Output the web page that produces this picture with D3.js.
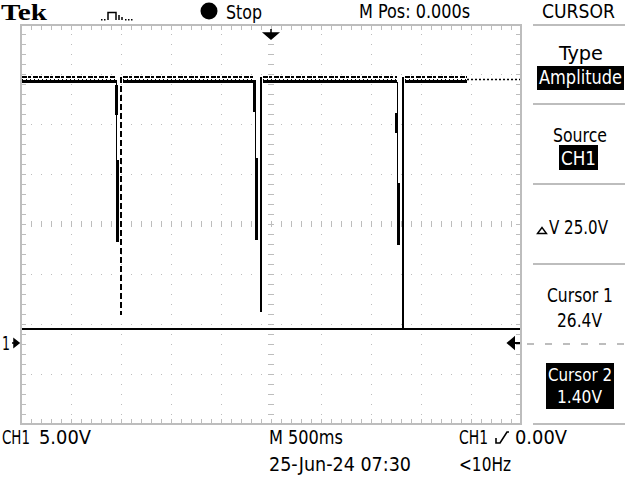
<!DOCTYPE html>
<html><head><meta charset="utf-8">
<script src="https://cdn.jsdelivr.net/npm/d3@7"></script>
<style>body{margin:0;background:#fff}svg{display:block}</style>
</head><body><svg id="c" width="640" height="480"></svg>
<script>
// ---------- data ----------
const timeDomain = [-2.5, 2.5];          // seconds (M 500ms/div, M Pos 0.000s)
const voltDomain = [-8.1, 31.9];         // volts (CH1 5.00V/div)
const traceStartT = -2.5, traceEndT = 1.96;
const traceHighTopV = 26.6, traceHighBotV = 26.15;
const pulseLeftT = [-1.545, -0.16, 1.26];
const pulseEdgeT = [-1.505, -0.10, 1.32];
const pulseMinV = [2.8, 3.1, 1.4];
const pulseDense = [[[25.8, 22.8], [18.3, 10.1]], [[26.3, 23.1], [18.5, 10.3]], [[23.0, 21.0], [16.0, 9.8]]];
const cursorV = [26.4, 1.40];
const triggerLevelV = 0.0;
const menuTitle = "CURSOR";
const menuItems = [["Type", "Amplitude"], ["Source", "CH1"], ["ΔV 25.0V"], ["Cursor 1", "26.4V"], ["Cursor 2", "1.40V"]];
const bottomLabels = ["CH1", "5.00V", "M 500ms", "CH1", "0.00V", "25-Jun-24 07:30", "<10Hz"];
const topLabels = ["Tek", "Stop", "M Pos: 0.000s"];

// ---------- setup ----------
const svg = d3.select("#c");
const x = d3.scaleLinear().domain(timeDomain).range([21, 521]);
const y = d3.scaleLinear().domain(voltDomain).range([424, 24]);
const GRID = "#bdbdbd";
const FONT = "'Liberation Sans Narrow','DejaVu Sans Condensed','Roboto Condensed',sans-serif";

svg.append("rect").attr("width", 640).attr("height", 480).attr("fill", "#fff");

// ---------- graticule ----------
const g = svg.append("g").attr("shape-rendering", "crispEdges");
const xDivs = d3.range(1, 10).map(k => timeDomain[0] + 0.5 * k);
const yDivs = d3.range(1, 8).map(k => voltDomain[0] + 5 * k);
const xMinor = d3.range(1, 50).map(k => timeDomain[0] + 0.1 * k);
const yMinor = d3.range(1, 40).map(k => voltDomain[0] + 1 * k);

g.selectAll("line.vd").data(xDivs).join("line")
  .attr("x1", d => x(d)).attr("x2", d => x(d)).attr("y1", 26).attr("y2", 423)
  .attr("stroke", GRID).attr("stroke-width", 1).attr("stroke-dasharray", "1,9").attr("stroke-dashoffset", -8);
g.selectAll("line.hd").data(yDivs).join("line")
  .attr("y1", d => y(d)).attr("y2", d => y(d)).attr("x1", 22).attr("x2", 520)
  .attr("stroke", GRID).attr("stroke-width", 1).attr("stroke-dasharray", "1,9").attr("stroke-dashoffset", -9);

const xc = x(0), yc = y(voltDomain[0] + 20);
g.selectAll("line.ct1").data(yMinor).join("line")
  .attr("x1", xc - 3).attr("x2", xc + 3).attr("y1", d => y(d)).attr("y2", d => y(d))
  .attr("stroke", GRID).attr("stroke-width", 1);
g.selectAll("line.ct2").data(xMinor).join("line")
  .attr("y1", yc - 3).attr("y2", yc + 3).attr("x1", d => x(d)).attr("x2", d => x(d))
  .attr("stroke", GRID).attr("stroke-width", 1);
g.selectAll("line.bt").data(xMinor).join("line")
  .attr("x1", d => x(d)).attr("x2", d => x(d)).attr("y1", 26).attr("y2", 30)
  .attr("stroke", GRID).attr("stroke-width", 1);
g.selectAll("line.bb").data(xMinor).join("line")
  .attr("x1", d => x(d)).attr("x2", d => x(d)).attr("y1", 419).attr("y2", 423)
  .attr("stroke", GRID).attr("stroke-width", 1);
g.selectAll("line.bl").data(yMinor).join("line")
  .attr("x1", 22).attr("x2", 26).attr("y1", d => y(d)).attr("y2", d => y(d))
  .attr("stroke", GRID).attr("stroke-width", 1);
g.selectAll("line.br").data(yMinor).join("line")
  .attr("x1", 516).attr("x2", 520).attr("y1", d => y(d)).attr("y2", d => y(d))
  .attr("stroke", GRID).attr("stroke-width", 1);
g.append("rect").attr("x", 21).attr("y", 25).attr("width", 500).attr("height", 399)
  .attr("fill", "none").attr("stroke", GRID).attr("stroke-width", 2);

// ---------- cursors ----------
svg.append("line").attr("x1", 22).attr("x2", 520).attr("y1", y(cursorV[1])).attr("y2", y(cursorV[1]))
  .attr("stroke", "#000").attr("stroke-width", 2).attr("shape-rendering", "crispEdges");
svg.append("line").attr("x1", x(traceEndT)).attr("x2", 520).attr("y1", y(cursorV[0]) + 0.5).attr("y2", y(cursorV[0]) + 0.5)
  .attr("stroke", "#000").attr("stroke-width", 1.5).attr("stroke-dasharray", "2,2");

// ---------- trace ----------
const tr = svg.append("g").attr("shape-rendering", "crispEdges");
const segStarts = [traceStartT, ...pulseEdgeT.map(t => t + 0.01)];
const segEnds = [...pulseLeftT, traceEndT];
const segs = segStarts.map((s, i) => [s, segEnds[i]]);
tr.selectAll("line.b").data(segs).join("line")
  .attr("x1", d => x(d[0]) + 1).attr("x2", d => x(d[1]))
  .attr("y1", y(traceHighBotV)).attr("y2", y(traceHighBotV))
  .attr("stroke", "#000").attr("stroke-width", 3);
tr.selectAll("line.t").data(segs).join("line")
  .attr("x1", d => x(d[0]) + 1).attr("x2", d => x(d[1]))
  .attr("y1", y(traceHighTopV)).attr("y2", y(traceHighTopV))
  .attr("stroke", "#000").attr("stroke-width", 2).attr("stroke-dasharray", "5,1,3,2");
tr.selectAll("line.m").data(segs).join("line")
  .attr("x1", d => x(d[0]) + 1).attr("x2", d => x(d[1]))
  .attr("y1", y((traceHighTopV + traceHighBotV) / 2)).attr("y2", y((traceHighTopV + traceHighBotV) / 2))
  .attr("stroke", "#000").attr("stroke-width", 1).attr("stroke-dasharray", "1,3");

pulseEdgeT.forEach((te, i) => {
  const tl = pulseLeftT[i];
  const dense = pulseDense[i];
  const lowest = d3.min(dense, d => d[1]);
  tr.append("line").attr("x1", x(tl)).attr("x2", x(tl))
    .attr("y1", y(traceHighBotV)).attr("y2", y(lowest))
    .attr("stroke", "#000").attr("stroke-width", 1);
  dense.forEach((d, k) => {
    tr.append("rect").attr("x", x(tl) - 2 + k * 1.5).attr("width", 3)
      .attr("y", y(d[0])).attr("height", y(d[1]) - y(d[0])).attr("fill", "#000");
  });
  const ln = tr.append("line").attr("x1", x(te)).attr("x2", x(te))
    .attr("y1", y(traceHighTopV)).attr("y2", y(pulseMinV[i]))
    .attr("stroke", "#000").attr("stroke-width", 2);
  if (i === 0) ln.attr("stroke-dasharray", "6,3");
});

// ---------- markers ----------
svg.append("path").attr("d", `M${xc},29V34 M${xc - 7},33H${xc + 7}L${xc},39Z`)
  .attr("fill", "#000").attr("stroke", "#000").attr("stroke-width", 1.5);
const yg = y(0);
svg.append("text").attr("x", 2).attr("y", yg + 7).attr("font-family", FONT).attr("font-size", 20)
  .attr("textLength", 8).attr("lengthAdjust", "spacingAndGlyphs").text("1");
svg.append("path").attr("d", `M12,${yg}H15 M14,${yg - 4}L19,${yg}L14,${yg + 4}Z`)
  .attr("fill", "#000").attr("stroke", "#000").attr("stroke-width", 1.5);
const yt = y(triggerLevelV);
svg.append("path").attr("d", `M520,${yt}H512 M514,${yt - 5}L508,${yt}L514,${yt + 5}Z`)
  .attr("fill", "#000").attr("stroke", "#000").attr("stroke-width", 2);

// ---------- text helpers ----------
function txt(s, x0, yb, w, opts = {}) {
  return svg.append("text").attr("x", x0).attr("y", yb)
    .attr("font-family", opts.family || FONT).attr("font-size", opts.size || 20)
    .attr("font-weight", opts.weight || "normal").attr("fill", opts.fill || "#000")
    .attr("textLength", w).attr("lengthAdjust", "spacingAndGlyphs").text(s);
}

// ---------- header ----------
txt(topLabels[0], 1, 20, 46, { family: "'Liberation Serif','DejaVu Serif',serif", weight: "bold", size: 24 });
svg.append("path").attr("d", "M108,20V12.5H116V20 M119,20V15 M122,20V17")
  .attr("fill", "none").attr("stroke", "#000").attr("stroke-width", 1.5);
[101, 104, 125, 128, 131].forEach(px => svg.append("rect").attr("x", px).attr("y", 19).attr("width", 1.5).attr("height", 1.5).attr("fill", "#000"));
svg.append("circle").attr("cx", 209).attr("cy", 11).attr("r", 8.5).attr("fill", "#000");
txt(topLabels[1], 226, 19, 36);
txt(topLabels[2], 359, 18, 111);
txt(menuTitle, 542, 18, 73);

// ---------- side menu ----------
const sep = svg.append("g").attr("shape-rendering", "crispEdges");
[25, 104, 184, 264, 424].forEach(yy => sep.append("line").attr("x1", 533).attr("x2", 625)
  .attr("y1", yy).attr("y2", yy).attr("stroke", GRID).attr("stroke-width", 2));
sep.append("line").attr("x1", 527).attr("x2", 625).attr("y1", 344).attr("y2", 344)
  .attr("stroke", GRID).attr("stroke-width", 2).attr("stroke-dasharray", "7,11");

txt(menuItems[0][0], 559, 60, 44);
svg.append("rect").attr("x", 537).attr("y", 66).attr("width", 87).attr("height", 24).attr("fill", "#000");
txt(menuItems[0][1], 539, 84, 83, { fill: "#fff" });

txt(menuItems[1][0], 553, 142, 54);
svg.append("rect").attr("x", 559).attr("y", 145).attr("width", 39).attr("height", 25).attr("fill", "#000");
txt(menuItems[1][1], 561, 165, 35, { fill: "#fff" });

svg.append("path").attr("d", "M537.5,233.5L542,227.5L546.5,233.5Z").attr("fill", "none").attr("stroke", "#000").attr("stroke-width", 1.4);
txt(menuItems[2][0].slice(1), 549, 234, 59);

txt(menuItems[3][0], 547, 302, 66);
txt(menuItems[3][1], 557, 327, 45);

svg.append("rect").attr("x", 546).attr("y", 363).attr("width", 68).attr("height", 46).attr("fill", "#000");
txt(menuItems[4][0], 548, 381, 64, { fill: "#fff", size: 18 });
txt(menuItems[4][1], 557, 403, 45, { fill: "#fff", size: 18 });

// ---------- footer ----------
txt(bottomLabels[0], 2, 444, 28);
txt(bottomLabels[1], 39, 444, 52);
txt(bottomLabels[2], 269, 444, 74);
txt(bottomLabels[3], 459, 444, 29);
svg.append("path").attr("d", "M496,438V443H500L507,432H509").attr("fill", "none").attr("stroke", "#000").attr("stroke-width", 1.6);
txt(bottomLabels[4], 515, 444, 52);
txt(bottomLabels[5], 269, 471, 142);
txt(bottomLabels[6], 459, 471, 52);
</script></body></html>
